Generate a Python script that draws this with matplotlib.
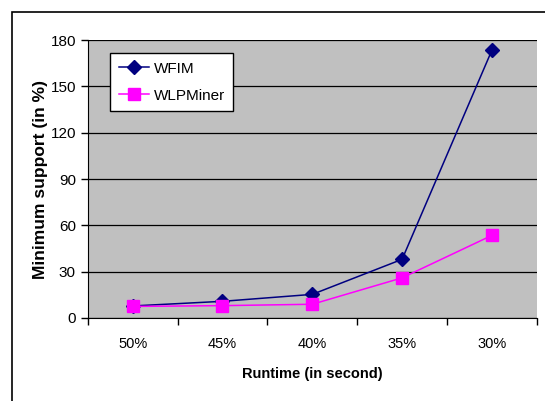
import numpy as np
from matplotlib import pyplot as plt
from matplotlib.patches import Rectangle

categories = ["50%", "45%", "40%", "35%", "30%"]
wfim = [7.8, 10.8, 15.3, 38, 173.5]
wlpminer = [7.5, 8, 8.9, 26, 53.5]

plt.rcParams['font.family'] = ['Liberation Sans', 'DejaVu Sans']

fig = plt.figure(figsize=(5.45, 4.01), dpi=100)
ax = fig.add_axes([0.161, 0.207, 0.824, 0.693])

# outer chart border (runs past right/bottom edges)
fig.patches.append(Rectangle((12 / 545, -0.05), 1.0, 1 - 12 / 401 + 0.05,
                             transform=fig.transFigure, fill=False,
                             edgecolor='black', linewidth=1.2))

x = np.arange(len(categories))
ax.set_facecolor('#C0C0C0')
ax.plot(x, wfim, color='#000080', marker='D', markersize=7, linewidth=1.1, label='WFIM')
ax.plot(x, wlpminer, color='#FF00FF', marker='s', markersize=8, linewidth=1.1, label='WLPMiner')

ax.set_xlim(-0.5, len(categories) - 0.5)
ax.set_ylim(0, 180)
ax.set_yticks(range(0, 181, 30))
ax.yaxis.grid(True, color='black', linewidth=0.9)
ax.set_axisbelow(True)

ax.set_xticks(x)
ax.set_xticklabels(categories, fontsize=10.5)
ax.set_xticks(np.arange(-0.5, len(categories)), minor=True)
ax.tick_params(axis='x', which='major', length=0, pad=14)
ax.tick_params(axis='x', which='minor', length=5, width=1)
ax.tick_params(axis='y', labelsize=11, length=5, width=1)

for s in ['top', 'right']:
    ax.spines[s].set_visible(False)

ax.set_xlabel('Runtime (in second)', fontsize=10.5, fontweight='bold', labelpad=11)
ax.set_ylabel('Minimum support (in %)', fontsize=12.5, fontweight='bold', labelpad=2)

leg = ax.legend(loc='upper left', bbox_to_anchor=(0.05, 0.953), borderaxespad=0,
                fancybox=False, framealpha=1, edgecolor='black', fontsize=11,
                handlelength=2.0, handletextpad=0.3, borderpad=0.55, labelspacing=0.85)
leg.get_frame().set_linewidth(1)

fig.savefig('out.png', dpi=100)
